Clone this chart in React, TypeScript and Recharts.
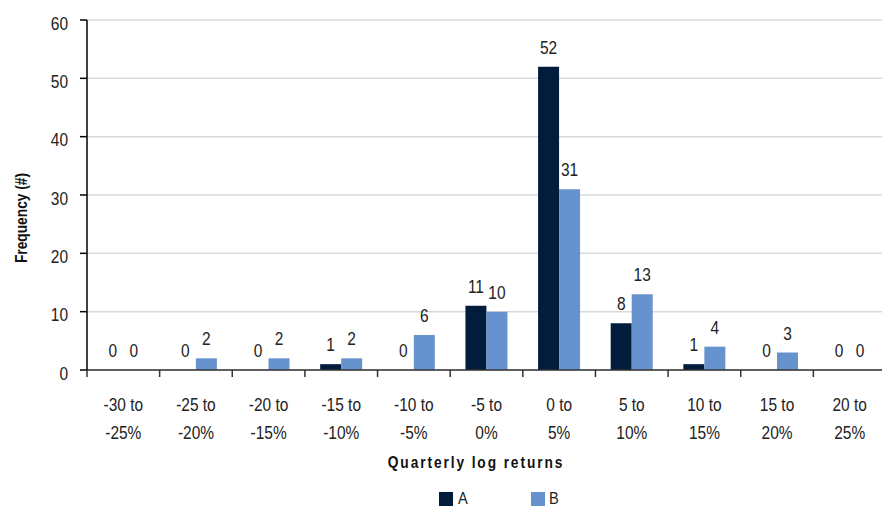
import { BarChart, Bar, XAxis, YAxis, CartesianGrid, LabelList } from 'recharts';

const categories = [
  '-30 to -25%',
  '-25 to -20%',
  '-20 to -15%',
  '-15 to -10%',
  '-10 to -5%',
  '-5 to 0%',
  '0 to 5%',
  '5 to 10%',
  '10 to 15%',
  '15 to 20%',
  '20 to 25%',
];
const seriesA = [0, 0, 0, 1, 0, 11, 52, 8, 1, 0, 0];
const seriesB = [0, 2, 2, 2, 6, 10, 31, 13, 4, 3, 0];
const yTicks = [0, 10, 20, 30, 40, 50, 60];

const COLOR_A = '#021d3b';
const COLOR_B = '#6693cd';
const TEXT = '#222';
const FONT = "'Liberation Sans', Arial, sans-serif";
const NARROW = 0.86; // the original uses a condensed face

const W = 882;
const H = 507;
const X_AXIS_H = 30;
const Y_AXIS_W = 60;
const MARGIN = { top: 20, right: -4, left: 87 - Y_AXIS_W, bottom: 137 - X_AXIS_H };
const BAND = (W - MARGIN.left - MARGIN.right - Y_AXIS_W) / categories.length;

const data = categories.map((c, i) => ({ range: c, A: seriesA[i], B: seriesB[i] }));

function NText({ x, y, children, rotate = 0, ...rest }: any) {
  return (
    <text
      transform={`translate(${x} ${y}) rotate(${rotate}) scale(${NARROW} 1)`}
      x={0}
      y={0}
      fontFamily={FONT}
      fill={TEXT}
      {...rest}
    >
      {children}
    </text>
  );
}

function XTick(props: any) {
  const { x, y, payload } = props;
  const [from, to] = String(payload.value).split(' to ');
  return (
    <g>
      <line x1={x - BAND / 2} x2={x - BAND / 2} y1={y} y2={y + 7} stroke="#333" strokeWidth={1.5} />
      <NText x={x} y={y} textAnchor="middle" fontSize={18}>
        <tspan x={0} dy={41}>{from} to</tspan>
        <tspan x={0} dy={28}>{to}</tspan>
      </NText>
    </g>
  );
}

function YTick(props: any) {
  const { x, y, payload } = props;
  return (
    <NText x={x} y={y + 9.5} textAnchor="end" fontSize={18}>
      {payload.value}
    </NText>
  );
}

function ValueLabel(props: any) {
  const { x, y, width, value } = props;
  return (
    <NText x={x + width / 2} y={y - 13} textAnchor="middle" fontSize={18}>
      {value}
    </NText>
  );
}

export default function App() {
  return (
    <div style={{ position: 'absolute', left: 0, top: 0, width: W, height: H, background: '#fff', fontFamily: FONT, overflow: 'hidden' }}>
      <BarChart width={W} height={H} data={data} margin={MARGIN} barCategoryGap="21%" barGap={0}>
        <CartesianGrid vertical={false} stroke="#d9d9d9" strokeWidth={1.5} />
        <XAxis
          dataKey="range"
          height={X_AXIS_H}
          interval={0}
          tickLine={false}
          tickSize={0}
          tickMargin={0}
          axisLine={{ stroke: '#333', strokeWidth: 1.5 }}
          tick={<XTick />}
          label={{
            content: () => (
              <NText x={476} y={468} textAnchor="middle" fontSize={16} fontWeight="bold" letterSpacing={2.2} fill="#111">
                Quarterly log returns
              </NText>
            ),
          }}
        />
        <YAxis
          width={Y_AXIS_W}
          domain={[0, 60]}
          ticks={yTicks}
          interval={0}
          tickSize={7}
          tickMargin={12}
          axisLine={{ stroke: '#000', strokeWidth: 1.5 }}
          tickLine={{ stroke: '#000', strokeWidth: 1.5 }}
          tick={<YTick />}
          label={{
            content: () => (
              <NText x={27} y={218} rotate={-90} textAnchor="middle" fontSize={16} fontWeight="bold" fill="#111">
                Frequency (#)
              </NText>
            ),
          }}
        />
        <Bar dataKey="A" fill={COLOR_A} minPointSize={0.01} isAnimationActive={false}>
          <LabelList dataKey="A" content={<ValueLabel />} />
        </Bar>
        <Bar dataKey="B" fill={COLOR_B} minPointSize={0.01} isAnimationActive={false}>
          <LabelList dataKey="B" content={<ValueLabel />} />
        </Bar>
      </BarChart>
      <div style={{ position: 'absolute', top: 492, left: 439, display: 'flex', alignItems: 'center', fontSize: 17, lineHeight: '14px', color: TEXT }}>
        <span style={{ width: 14, height: 14, background: COLOR_A, display: 'inline-block', marginRight: 5 }} />
        <span style={{ display: 'inline-block', width: 73, transform: `scaleX(${NARROW})`, transformOrigin: 'left' }}>A</span>
        <span style={{ width: 14, height: 14, background: COLOR_B, display: 'inline-block', marginRight: 4 }} />
        <span style={{ display: 'inline-block', transform: `scaleX(${NARROW})`, transformOrigin: 'left' }}>B</span>
      </div>
    </div>
  );
}
